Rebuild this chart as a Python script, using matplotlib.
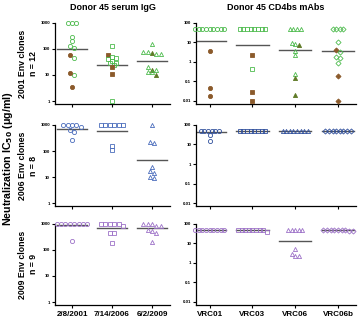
import matplotlib.pyplot as plt
from matplotlib.ticker import FixedLocator, NullLocator

plt.rcParams['font.family'] = ['Liberation Sans', 'DejaVu Sans']
plt.rcParams['font.weight'] = 'bold'

# данные: значения IC50 по группам, флаги закрашенных точек
serum_groups = ['2/8/2001', '7/14/2006', '6/2/2009']
mab_groups = ['VRC01', 'VRC03', 'VRC06', 'VRC06b']
row_labels = ['2001 Env clones\nn = 12', '2006 Env clones\nn = 8', '2009 Env clones\nn = 9']

# 2001 Env clones
s01_vals = [[1000, 1000, 1000, 300, 200, 125, 110, 46, 10, 56, 11.5, 3.6],
            [130, 60, 50, 45, 40, 35, 30, 28, 25, 20, 11, 1],
            [150, 75, 70, 65, 65, 75, 20, 16, 16, 13, 13, 10]]
s01_fill = [[0, 0, 0, 0, 0, 0, 0, 0, 0, 1, 1, 1],
            [0, 1, 0, 0, 0, 0, 0, 0, 0, 1, 1, 0],
            [0, 0, 1, 0, 0, 0, 0, 1, 0, 0, 0, 1]]
s01_med = [100, 25, 33]
m01_vals = [[50, 50, 50, 50, 50, 50, 50, 50, 50, 3.5, 0.046, 0.018],
            [50, 50, 50, 50, 50, 50, 50, 50, 2.2, 0.45, 0.028, 0.01],
            [50, 50, 50, 50, 9, 8, 7, 3.5, 2.3, 0.25, 0.15, 0.02],
            [50, 50, 50, 50, 11, 4, 3.2, 1.8, 1.5, 0.9, 0.2, 0.01]]
m01_fill = [[0, 0, 0, 0, 0, 0, 0, 0, 0, 1, 1, 1],
            [0, 0, 0, 0, 0, 0, 0, 0, 1, 0, 1, 1],
            [0, 0, 0, 0, 0, 0, 1, 0, 0, 0, 1, 1],
            [0, 0, 0, 0, 0, 1, 0, 0, 0, 0, 1, 1]]
m01_med = [12, 7, 4.2, 3.5]

# 2006 Env clones
s06_vals = [[1000, 1000, 1000, 1000, 800, 650, 550, 260],
            [1000, 1000, 1000, 1000, 1000, 1000, 160, 110],
            [1000, 220, 210, 24, 17, 14, 10, 9]]
s06_med = [700, 600, 46]
m06_vals = [[50, 50, 50, 50, 50, 50, 30, 16],
            [50] * 8,
            [50] * 8,
            [50] * 8]
m06_med = [45, 50, 50, 50]

# 2009 Env clones
s09_vals = [[1000] * 8 + [215],
            [1000, 1000, 1000, 1000, 1000, 800, 450, 450, 180],
            [1000, 1000, 850, 850, 600, 550, 450, 200, 1000]]
s09_med = [900, 690, 670]
m09_vals = [[50] * 9,
            [50, 50, 50, 50, 50, 50, 50, 50, 40],
            [50, 50, 50, 50, 50, 5, 3, 2.2, 2.2],
            [50, 50, 50, 50, 42, 42, 50, 50, 50]]
m09_med = [50, 48, 14, 50]

markers = ['o', 's', '^']
mab_markers = ['o', 's', '^', 'D']
green = '#4dbb4d'
brown = '#8b5a2b'
olive = '#5f7a26'
blue = '#4a6cbc'
navy = '#2f4f9c'
purple = '#9d72c8'
med_color = '#555555'


def spread_x(ax, x0, vals, step=0.11, tol=3.5):
    # раскладываем близкие по высоте точки в ряд
    ys = ax.transData.transform([(x0, v) for v in vals])[:, 1]
    order = sorted(range(len(vals)), key=lambda i: -vals[i])
    rows = []
    for i in order:
        if rows and abs(ys[rows[-1][0]] - ys[i]) < tol:
            rows[-1].append(i)
        else:
            rows.append([i])
    xs = [x0] * len(vals)
    for r in rows:
        n = len(r)
        for k, i in enumerate(r):
            xs[i] = x0 + (k - (n - 1) / 2) * step
    return xs


def setup(ax, ngroups, left, bottom_labels):
    ax.set_yscale('log')
    if left:
        ax.set_ylim(0.77, 1000)
        ticks = [1, 10, 100, 1000]
        labels = ['1', '10', '100', '1000']
        ax.set_xlim(0.57, 3.45)
    else:
        ax.set_ylim(0.007, 100)
        ticks = [0.01, 0.1, 1, 10, 100]
        labels = ['0.01', '0.1', '1', '10', '100']
        ax.set_xlim(0.68, 4.42)
    ax.yaxis.set_major_locator(FixedLocator(ticks))
    ax.yaxis.set_minor_locator(NullLocator())
    ax.set_yticklabels(labels)
    ax.set_xticks(range(1, ngroups + 1))
    if bottom_labels is not None:
        ax.set_xticklabels(bottom_labels, fontsize=5.8, fontweight='bold')
    else:
        ax.set_xticklabels([])
    for s in ['top', 'right']:
        ax.spines[s].set_visible(False)
    for s in ['left', 'bottom']:
        ax.spines[s].set_linewidth(0.9)
    ax.tick_params(axis='y', length=2.5, width=0.8, labelsize=3.2, pad=1)
    ax.tick_params(axis='x', length=2.5, width=0.8, pad=1.5)


def draw(ax, vals_list, fills, meds, mlist, color, fill_color, step=0.11):
    for g, vals in enumerate(vals_list):
        x0 = g + 1
        xs = spread_x(ax, x0, vals, step=step)
        m = mlist[g]
        ms = 3.0 if m != 'D' else 2.6
        for i, v in enumerate(vals):
            filled = fills is not None and fills[g][i]
            if filled:
                fc = olive if m == '^' else fill_color
                ax.plot(xs[i], v, marker=m, ms=ms, mfc=fc, mec=fc,
                        mew=0.6, ls='none', clip_on=False, zorder=3)
            else:
                ax.plot(xs[i], v, marker=m, ms=ms, mfc='none', mec=color,
                        mew=0.6, ls='none', clip_on=False, zorder=3)
        ax.plot([x0 - 0.38, x0 + 0.38], [meds[g], meds[g]], color=med_color,
                lw=1.0, zorder=2)


fig = plt.figure(figsize=(3.61, 3.18), dpi=100)
row_y = [0.673, 0.352, 0.041]
h = 0.255
axes = []
for r in range(3):
    axl = fig.add_axes([0.152, row_y[r], 0.319, h])
    axr = fig.add_axes([0.543, row_y[r], 0.443, h])
    last = r == 2
    setup(axl, 3, True, serum_groups if last else None)
    setup(axr, 4, False, mab_groups if last else None)
    axes.append((axl, axr))

draw(axes[0][0], s01_vals, s01_fill, s01_med, markers, green, brown)
draw(axes[0][1], m01_vals, m01_fill, m01_med, mab_markers, green, brown, step=0.085)
draw(axes[1][0], s06_vals, None, s06_med, markers, blue, blue)
draw(axes[1][1], m06_vals, None, m06_med, mab_markers, navy, navy, step=0.085)
draw(axes[2][0], s09_vals, None, s09_med, markers, purple, purple)
draw(axes[2][1], m09_vals, None, m09_med, mab_markers, purple, purple, step=0.085)

# подписи строк
for r in range(3):
    yc = row_y[r] + h / 2
    fig.text(0.078, yc, row_labels[r], rotation=90, ha='center', va='center',
             fontsize=6.3, fontweight='bold', linespacing=1.2)

fig.text(0.022, 0.5, 'Neutralization IC$_{\\mathbf{50}}$ (\u03bcg/ml)', rotation=90,
         ha='center', va='center', fontsize=7.7, fontweight='bold')
fig.text(0.312, 0.975, 'Donor 45 serum IgG', ha='center', va='center',
         fontsize=6.5, fontweight='bold')
fig.text(0.765, 0.975, 'Donor 45 CD4bs mAbs', ha='center', va='center',
         fontsize=6.5, fontweight='bold')

fig.savefig('out.png', dpi=100)
